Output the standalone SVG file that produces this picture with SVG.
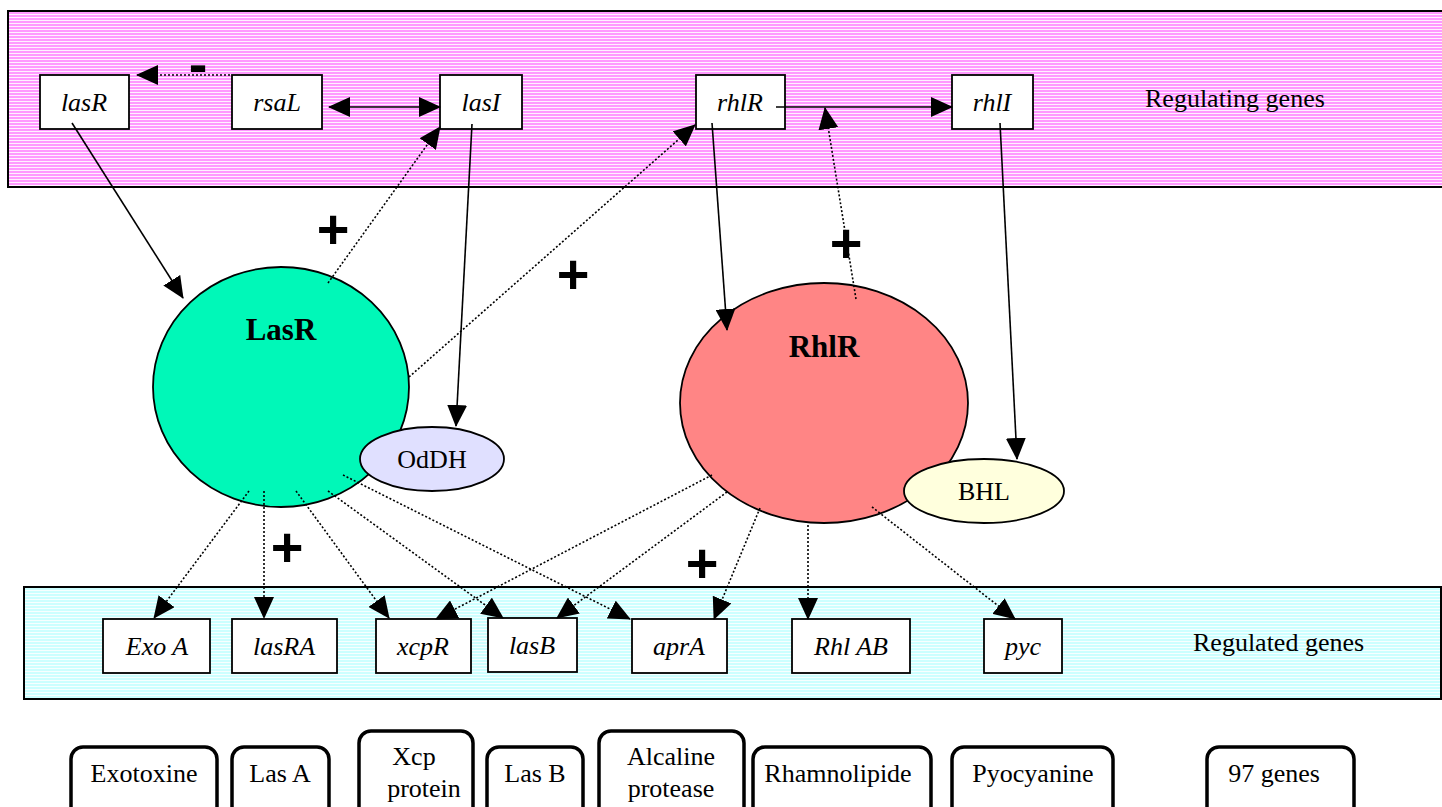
<svg xmlns="http://www.w3.org/2000/svg" width="1442" height="807" viewBox="0 0 1442 807">
<defs>
<pattern id="pinkStripe" width="8" height="3" patternUnits="userSpaceOnUse"><rect width="8" height="3" fill="#FF99FF"/><rect y="2" width="8" height="1" fill="#FFFFFF" opacity="0.85"/></pattern>
<pattern id="cyanStripe" width="8" height="3" patternUnits="userSpaceOnUse"><rect width="8" height="3" fill="#CCFFFF"/><rect y="2" width="8" height="1" fill="#FFFFFF" opacity="0.85"/></pattern>
<marker id="ah" markerUnits="userSpaceOnUse" markerWidth="22" markerHeight="20" viewBox="0 0 22 20" refX="21" refY="10" orient="auto-start-reverse"><path d="M0,0 L22,10 L0,20 z" fill="#000"/></marker>
</defs>
<style>
.band{stroke:#000;stroke-width:2}
.gene{fill:#fff;stroke:#000;stroke-width:1.8}
.gt{font-family:"Liberation Serif",serif;font-style:italic;font-size:26px;fill:#000;text-anchor:middle}
.lbl{font-family:"Liberation Serif",serif;font-size:26px;fill:#000}
.out{fill:#fff;stroke:#000;stroke-width:3.5}
.ot{font-family:"Liberation Serif",serif;font-size:26px;fill:#000;text-anchor:middle}
.big{font-family:"Liberation Serif",serif;font-weight:bold;font-size:31px;fill:#000;text-anchor:middle}
.sig{font-family:"Liberation Sans",sans-serif;font-weight:bold;font-size:56px;fill:#000;text-anchor:middle}
.sol{fill:none;stroke:#000;stroke-width:1.6;marker-end:url(#ah)}
.dot{fill:none;stroke:#000;stroke-width:1.6;stroke-dasharray:2 2;marker-end:url(#ah)}
</style>

<g id="regulating-band">
<rect class="band" x="8" y="11" width="1445" height="176" fill="url(#pinkStripe)"/>
<text class="lbl" x="1145" y="107">Regulating genes</text>
</g>
<g id="regulated-band">
<rect class="band" x="24" y="587" width="1417" height="112" fill="url(#cyanStripe)"/>
<text class="lbl" x="1193" y="651">Regulated genes</text>
</g>

<g id="LasR">
<ellipse cx="281" cy="387" rx="128" ry="120" fill="#00F8B8" stroke="#000" stroke-width="1.8"/>
<text class="big" x="281" y="340">LasR</text>
</g>
<g id="RhlR">
<ellipse cx="824" cy="403" rx="144" ry="120" fill="#FF8585" stroke="#000" stroke-width="1.8"/>
<text class="big" x="824" y="357">RhlR</text>
</g>
<g id="OdDH">
<ellipse cx="432" cy="459" rx="72" ry="32" fill="#E0E0FF" stroke="#000" stroke-width="1.8"/>
<text class="ot" x="432" y="468">OdDH</text>
</g>
<g id="BHL">
<ellipse cx="984" cy="491" rx="80" ry="32" fill="#FFFFDD" stroke="#000" stroke-width="1.8"/>
<text class="ot" x="984" y="500">BHL</text>
</g>

<g id="lasR"><rect class="gene" x="40" y="75" width="89" height="54"/><text class="gt" x="84" y="111">lasR</text></g>
<g id="rsaL"><rect class="gene" x="232" y="75" width="90" height="54"/><text class="gt" x="277" y="111">rsaL</text></g>
<g id="lasI"><rect class="gene" x="440" y="75" width="82" height="54"/><text class="gt" x="481" y="111">lasI</text></g>
<g id="rhlR"><rect class="gene" x="696" y="75" width="89" height="54"/><text class="gt" x="740" y="111">rhlR</text></g>
<g id="rhlI"><rect class="gene" x="952" y="75" width="81" height="54"/><text class="gt" x="992" y="111">rhlI</text></g>

<g id="ExoA"><rect class="gene" x="103" y="619" width="107" height="54"/><text class="gt" x="157" y="655">Exo A</text></g>
<g id="lasRA"><rect class="gene" x="232" y="619" width="105" height="54"/><text class="gt" x="284" y="655">lasRA</text></g>
<g id="xcpR"><rect class="gene" x="376" y="619" width="95" height="54"/><text class="gt" x="423" y="655">xcpR</text></g>
<g id="lasB"><rect class="gene" x="488" y="618" width="89" height="54"/><text class="gt" x="532" y="654">lasB</text></g>
<g id="aprA"><rect class="gene" x="632" y="619" width="95" height="54"/><text class="gt" x="679" y="655">aprA</text></g>
<g id="RhlAB"><rect class="gene" x="792" y="619" width="118" height="54"/><text class="gt" x="851" y="655">Rhl AB</text></g>
<g id="pyc"><rect class="gene" x="984" y="619" width="78" height="54"/><text class="gt" x="1023" y="655">pyc</text></g>

<g id="Exotoxine"><rect class="out" x="71" y="747" width="146" height="90" rx="12"/><text class="ot" x="144" y="782">Exotoxine</text></g>
<g id="LasA"><rect class="out" x="232" y="747" width="97" height="90" rx="12"/><text class="ot" x="280" y="782">Las A</text></g>
<g id="XcpProtein"><rect class="out" x="359" y="731" width="114" height="110" rx="12"/><text class="ot" x="414" y="765">Xcp</text><text class="ot" x="424" y="797">protein</text></g>
<g id="LasBprot"><rect class="out" x="487" y="747" width="96" height="90" rx="12"/><text class="ot" x="535" y="782">Las B</text></g>
<g id="Alcaline"><rect class="out" x="599" y="731" width="145" height="110" rx="12"/><text class="ot" x="671" y="765">Alcaline</text><text class="ot" x="671" y="797">protease</text></g>
<g id="Rhamnolipide"><rect class="out" x="753" y="747" width="178" height="90" rx="12"/><text class="ot" x="838" y="782">Rhamnolipide</text></g>
<g id="Pyocyanine"><rect class="out" x="952" y="747" width="161" height="90" rx="12"/><text class="ot" x="1033" y="782">Pyocyanine</text></g>
<g id="genes97"><rect class="out" x="1207" y="747" width="147" height="90" rx="12"/><text class="ot" x="1274" y="782">97 genes</text></g>

<g id="connectors">
<path class="dot" d="M230,75 L137,75"/>
<path class="sol" style="marker-start:url(#ah)" d="M329,107 L440,107"/>
<path class="sol" d="M72,123 L183,298"/>
<path class="dot" d="M328,283 L440,127"/>
<path class="sol" d="M472,124 L456,426"/>
<path class="dot" d="M409,377 L695,125"/>
<path class="sol" d="M712,123 L727,330"/>
<path class="sol" d="M776,107 L952,107"/>
<path class="dot" d="M856,299 L825,108"/>
<path class="sol" d="M1000,123 L1017,459"/>
<path class="dot" d="M249,491 L154,618"/>
<path class="dot" d="M264,491 L264,618"/>
<path class="dot" d="M296,491 L389,618"/>
<path class="dot" d="M328,491 L503,618"/>
<path class="dot" d="M343,475 L630,619"/>
<path class="dot" d="M712,475 L436,619"/>
<path class="dot" d="M727,492 L557,618"/>
<path class="dot" d="M760,508 L714,619"/>
<path class="dot" d="M808,525 L808,619"/>
<path class="dot" d="M872,507 L1015,619"/>
</g>

<g id="signs">
<text class="sig" x="198" y="83">-</text>
<text class="sig" x="333" y="248">+</text>
<text class="sig" x="573" y="293">+</text>
<text class="sig" x="846" y="262">+</text>
<text class="sig" x="287" y="566">+</text>
<text class="sig" x="702" y="582">+</text>
</g>
</svg>
